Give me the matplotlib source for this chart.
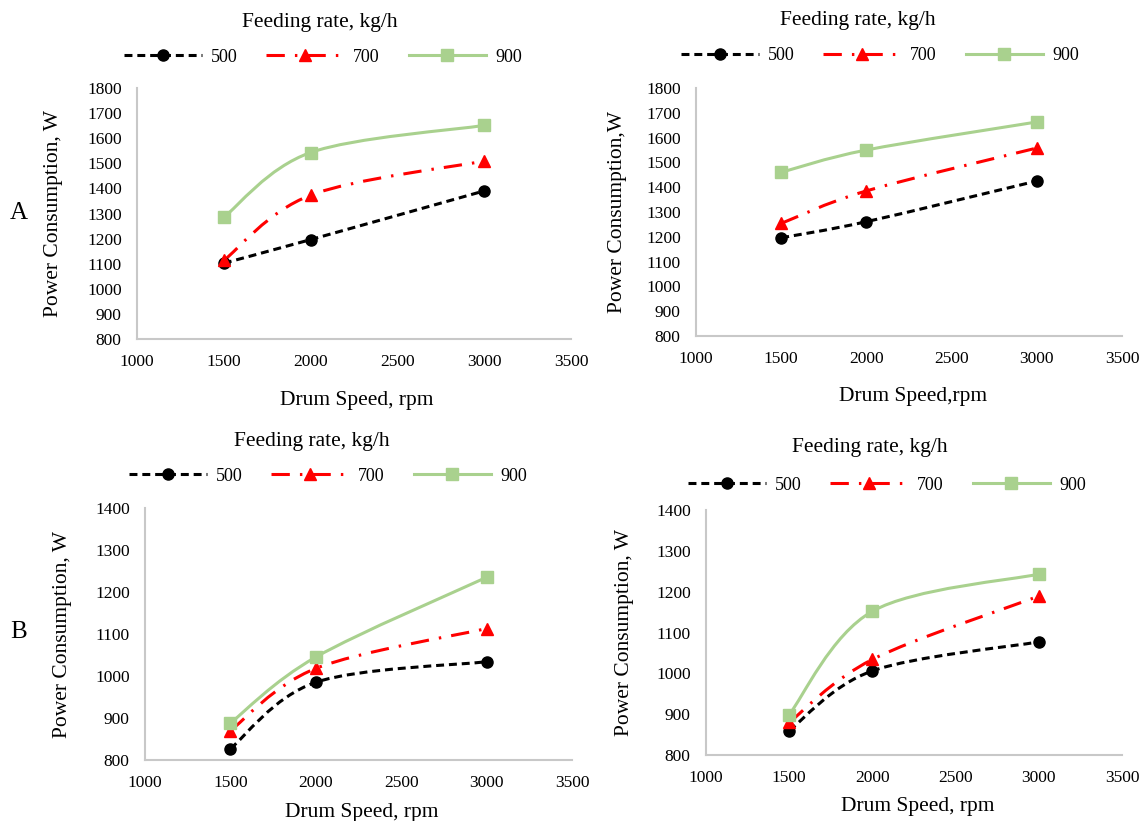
import numpy as np
import matplotlib
matplotlib.use('Agg')
import matplotlib.pyplot as plt
from matplotlib.path import Path
from matplotlib.patches import PathPatch
from matplotlib.lines import Line2D

plt.rcParams['font.family'] = ['Liberation Serif', 'DejaVu Serif']

# 데이터
drum_speed = [1500, 2000, 3000]
feed_labels = ['500', '700', '900']

a1_500 = [1102, 1196, 1390]
a1_700 = [1113, 1373, 1509]
a1_900 = [1285, 1543, 1651]

a2_500 = [1196, 1261, 1425]
a2_700 = [1254, 1385, 1558]
a2_900 = [1460, 1550, 1663]

b1_500 = [827, 985, 1034]
b1_700 = [870, 1018, 1113]
b1_900 = [888, 1045, 1235]

b2_500 = [860, 1006, 1077]
b2_700 = [880, 1034, 1189]
b2_900 = [899, 1152, 1243]

x_ticks = [1000, 1500, 2000, 2500, 3000, 3500]
y_ticks_top = list(range(800, 1801, 100))
y_ticks_bottom = list(range(800, 1401, 100))

W, H = 1143, 821

# 스타일
styles = [
    dict(color='black', linestyle=(0, (2.6, 1.6)), marker='o', markersize=8),
    dict(color='#ff0000', linestyle=(0, (6, 3.3, 0.8, 3.3)), marker='^', markersize=9),
    dict(color='#a9d18e', linestyle='-', marker='s', markersize=8),
]
lw = 2.2


def smooth_path(xs, ys):
    # Excel 스타일 부드러운 선 (베지어)
    p = np.column_stack([xs, ys]).astype(float)
    n = len(p)
    verts = [p[0]]
    codes = [Path.MOVETO]
    for i in range(n - 1):
        p0 = p[i - 1] if i > 0 else p[i]
        p3 = p[i + 2] if i + 2 < n else p[i + 1]
        c1 = p[i] + (p[i + 1] - p0) / 6
        c2 = p[i + 1] - (p3 - p[i]) / 6
        verts += [c1, c2, p[i + 1]]
        codes += [Path.CURVE4] * 3
    return Path(verts, codes)


fig = plt.figure(figsize=(W / 100, H / 100), dpi=100)

panels = [
    # (series, axes px [left, right, top, bottom], yticks, title pos, legend pos, ylabel x, ylabel, xlabel pos, xlabel)
    ([a1_500, a1_700, a1_900], (137, 571, 88, 339), y_ticks_top, (320, 22), (323, 57),
     54, 'Power Consumption, W', (357, 401), 'Drum Speed, rpm'),
    ([a2_500, a2_700, a2_900], (696, 1122, 88, 336), y_ticks_top, (858, 20), (880, 56),
     617, 'Power Consumption,W', (913, 396), 'Drum Speed,rpm'),
    ([b1_500, b1_700, b1_900], (145, 572, 508, 760), y_ticks_bottom, (312, 441), (328, 476),
     63, 'Power Consumption, W', (362, 812), 'Drum Speed, rpm'),
    ([b2_500, b2_700, b2_900], (706, 1122, 510, 755), y_ticks_bottom, (870, 447), (887, 485),
     625, 'Power Consumption, W', (918, 806), 'Drum Speed, rpm'),
]

for series, (l, r, t, b), yt, tpos, lpos, ylx, ylab, xlpos, xlab in panels:
    ax = fig.add_axes([l / W, 1 - b / H, (r - l) / W, (b - t) / H])
    for vals, st in zip(series, styles):
        patch = PathPatch(smooth_path(drum_speed, vals), fill=False,
                          edgecolor=st['color'], linestyle=st['linestyle'], linewidth=lw)
        ax.add_patch(patch)
        ax.plot(drum_speed, vals, linestyle='none', marker=st['marker'],
                markersize=st['markersize'], color=st['color'], zorder=3, clip_on=False)
    ax.set_xlim(1000, 3500)
    ax.set_ylim(yt[0], yt[-1])
    ax.set_xticks(x_ticks)
    ax.set_yticks(yt)
    for s in ['top', 'right']:
        ax.spines[s].set_visible(False)
    for s in ['left', 'bottom']:
        ax.spines[s].set_color('#c8c8c8')
        ax.spines[s].set_linewidth(1.5)
    ax.tick_params(length=0, labelsize=12.5, pad=11)

    fig.text(tpos[0] / W, 1 - tpos[1] / H, 'Feeding rate, kg/h', ha='center', va='center', fontsize=15.5)
    fig.text(ylx / W, 1 - (t + b) / 2 / H, ylab, ha='center', va='center', rotation=90, fontsize=15.5)
    fig.text(xlpos[0] / W, 1 - xlpos[1] / H, xlab, ha='center', va='center', fontsize=15.5)

    handles = [Line2D([], [], color=st['color'], linestyle=st['linestyle'], linewidth=lw,
                      marker=st['marker'], markersize=st['markersize']) for st in styles]
    fig.legend(handles, feed_labels, loc='center', bbox_to_anchor=(lpos[0] / W, 1 - lpos[1] / H),
               ncol=3, frameon=False, fontsize=13, handlelength=4.3, handletextpad=0.5,
               columnspacing=1.6, numpoints=1)

fig.text(19 / W, 1 - 213 / H, 'A', ha='center', va='center', fontsize=18)
fig.text(19 / W, 1 - 632 / H, 'B', ha='center', va='center', fontsize=18)

plt.savefig('out.png', dpi=100)
